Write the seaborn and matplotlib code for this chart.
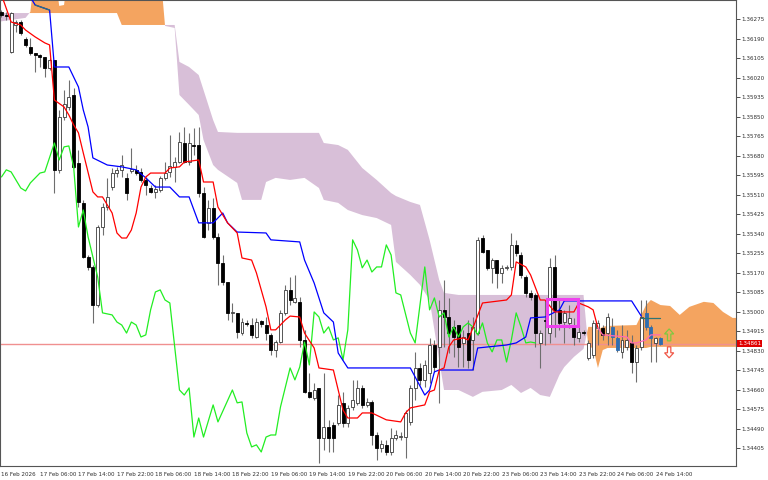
import numpy as np
import pandas as pd
import matplotlib.pyplot as plt
from matplotlib.patches import Rectangle
import seaborn as sns

# H1 candles, bar 0 = 16 Feb 22:00
opens = [1.36306, 1.36293, 1.36132, 1.36249, 1.36262, 1.36188, 1.36153, 1.36127, 1.36118, 1.36110,
         1.36062, 1.36097, 1.35618, 1.35848, 1.35892, 1.35944, 1.35648, 1.35474, 1.35239, 1.35195,
         1.35029, 1.35369, 1.35456, 1.35543, 1.35604, 1.35618, 1.35583, 1.35613, 1.35618, 1.35609,
         1.35574, 1.35539, 1.35522, 1.35530, 1.35583, 1.35609, 1.35631, 1.35652, 1.35735, 1.35652,
         1.35726, 1.35726, 1.35517, 1.35387, 1.35452, 1.35326, 1.35212, 1.35130, 1.34995, 1.34995,
         1.34907, 1.34951, 1.34942, 1.34890, 1.34960, 1.34942, 1.34899, 1.34833, 1.34868, 1.34995,
         1.35095, 1.35043, 1.35043, 1.34877, 1.34651, 1.34624, 1.34668, 1.34450, 1.34498, 1.34507,
         1.34515, 1.34603, 1.34515, 1.34585, 1.34603, 1.34668, 1.34594, 1.34607, 1.34463, 1.34407,
         1.34420, 1.34389, 1.34450, 1.34454, 1.34454, 1.34520, 1.34668, 1.34755, 1.34703, 1.34733,
         1.34855, 1.34847, 1.35008, 1.34977, 1.34934, 1.34942, 1.34864, 1.34907, 1.34877, 1.34907,
         1.35321, 1.35269, 1.35191, 1.35225, 1.35169, 1.35191, 1.35195, 1.35291, 1.35247, 1.35151,
         1.35082, 1.35073, 1.34864, 1.34964, 1.34907, 1.35195, 1.35008, 1.34955, 1.34951, 1.34929,
         1.34886, 1.34912, 1.34799, 1.34812, 1.34929, 1.34929, 1.34907, 1.34934, 1.34886, 1.34825,
         1.34847, 1.34864, 1.34781, 1.34847, 1.34995, 1.34934, 1.34864, 1.34886]
highs = [1.36314, 1.36306, 1.36306, 1.36271, 1.36271, 1.36197, 1.36193, 1.36127, 1.36123, 1.36110,
         1.36105, 1.36097, 1.35879, 1.35966, 1.36010, 1.35975, 1.35705, 1.35487, 1.35247, 1.35204,
         1.35378, 1.35474, 1.35583, 1.35626, 1.35631, 1.35683, 1.35604, 1.35713, 1.35639, 1.35626,
         1.35587, 1.35552, 1.35552, 1.35591, 1.35652, 1.35770, 1.35674, 1.35783, 1.35805, 1.35779,
         1.35801, 1.35805, 1.35543, 1.35487, 1.35496, 1.35343, 1.35247, 1.35130, 1.35038, 1.34995,
         1.34973, 1.34964, 1.34973, 1.34973, 1.34964, 1.34977, 1.34907, 1.34877, 1.35008, 1.35117,
         1.35151, 1.35160, 1.35064, 1.34921, 1.34733, 1.34690, 1.34668, 1.34733, 1.34529, 1.34520,
         1.34637, 1.34651, 1.34594, 1.34703, 1.34703, 1.34681, 1.34624, 1.34616, 1.34476, 1.34441,
         1.34441, 1.34494, 1.34485, 1.34476, 1.34572, 1.34681, 1.34825, 1.34777, 1.34790, 1.34886,
         1.34877, 1.35051, 1.35138, 1.35060, 1.34964, 1.34942, 1.34921, 1.34964, 1.34977, 1.35326,
         1.35334, 1.35269, 1.35234, 1.35225, 1.35204, 1.35204, 1.35343, 1.35313, 1.35260, 1.35160,
         1.35095, 1.35082, 1.34921, 1.35051, 1.35234, 1.35247, 1.35051, 1.35008, 1.35029, 1.34973,
         1.34942, 1.34921, 1.34877, 1.34964, 1.34964, 1.34942, 1.34995, 1.34973, 1.34921, 1.34942,
         1.34921, 1.34899, 1.34855, 1.35051, 1.35051, 1.34942, 1.34890, 1.34890]
lows = [1.36284, 1.36271, 1.36127, 1.36219, 1.36206, 1.36153, 1.36118, 1.36044, 1.36066, 1.36023,
        1.36053, 1.35517, 1.35604, 1.35835, 1.35879, 1.35626, 1.35456, 1.35234, 1.35182, 1.34951,
        1.35021, 1.35334, 1.35443, 1.35530, 1.35587, 1.35587, 1.35487, 1.35604, 1.35596, 1.35565,
        1.35509, 1.35517, 1.35496, 1.35522, 1.35574, 1.35587, 1.35565, 1.35648, 1.35648, 1.35639,
        1.35683, 1.35500, 1.35321, 1.35356, 1.35317, 1.35117, 1.35117, 1.34964, 1.34955, 1.34886,
        1.34899, 1.34938, 1.34886, 1.34886, 1.34934, 1.34877, 1.34812, 1.34803, 1.34864, 1.34986,
        1.35029, 1.35038, 1.34847, 1.34646, 1.34624, 1.34616, 1.34341, 1.34398, 1.34389, 1.34389,
        1.34507, 1.34498, 1.34498, 1.34572, 1.34594, 1.34581, 1.34585, 1.34420, 1.34354, 1.34389,
        1.34376, 1.34376, 1.34441, 1.34441, 1.34363, 1.34507, 1.34616, 1.34681, 1.34672, 1.34690,
        1.34738, 1.34603, 1.34847, 1.34820, 1.34803, 1.34759, 1.34759, 1.34755, 1.34746, 1.34899,
        1.35256, 1.35182, 1.35125, 1.35104, 1.35125, 1.35182, 1.35182, 1.35243, 1.35147, 1.35064,
        1.35051, 1.34847, 1.34755, 1.34855, 1.34864, 1.34890, 1.34921, 1.34864, 1.34929, 1.34855,
        1.34868, 1.34899, 1.34790, 1.34799, 1.34855, 1.34877, 1.34855, 1.34855, 1.34825, 1.34799,
        1.34833, 1.34733, 1.34694, 1.34833, 1.34921, 1.34781, 1.34781, 1.34855]
closes = [1.36293, 1.36288, 1.36301, 1.36262, 1.36214, 1.36162, 1.36127, 1.36118, 1.36110, 1.36062,
          1.36097, 1.35618, 1.35848, 1.35905, 1.35936, 1.35631, 1.35478, 1.35239, 1.35195, 1.35029,
          1.35369, 1.35456, 1.35500, 1.35604, 1.35618, 1.35639, 1.35517, 1.35622, 1.35604, 1.35574,
          1.35552, 1.35522, 1.35535, 1.35583, 1.35604, 1.35635, 1.35652, 1.35740, 1.35652, 1.35735,
          1.35722, 1.35517, 1.35326, 1.35452, 1.35326, 1.35212, 1.35130, 1.34995, 1.34999, 1.34912,
          1.34955, 1.34947, 1.34899, 1.34955, 1.34947, 1.34907, 1.34833, 1.34868, 1.34995, 1.35095,
          1.35051, 1.35060, 1.34877, 1.34651, 1.34629, 1.34659, 1.34450, 1.34498, 1.34450, 1.34450,
          1.34594, 1.34515, 1.34581, 1.34616, 1.34668, 1.34594, 1.34607, 1.34463, 1.34407, 1.34424,
          1.34389, 1.34450, 1.34463, 1.34459, 1.34559, 1.34668, 1.34755, 1.34703, 1.34768, 1.34855,
          1.34759, 1.35008, 1.34977, 1.34907, 1.34890, 1.34847, 1.34890, 1.34790, 1.34934, 1.35313,
          1.35260, 1.35191, 1.35225, 1.35169, 1.35191, 1.35195, 1.35291, 1.35256, 1.35160, 1.35082,
          1.35064, 1.34907, 1.34907, 1.34960, 1.35195, 1.35008, 1.34951, 1.34995, 1.34973, 1.34890,
          1.34912, 1.34907, 1.34864, 1.34951, 1.34951, 1.34899, 1.34977, 1.34890, 1.34833, 1.34877,
          1.34877, 1.34781, 1.34842, 1.34977, 1.34934, 1.34886, 1.34886, 1.34861]
blue_bars = [127, 128, 134, 135, 137]

# Ichimoku lines (bar index, price)
tenkan_bar = [0, 2, 4, 5, 7, 9, 10, 11, 13, 14, 15, 16, 17, 19, 20, 21, 23, 24, 25, 26,
              27, 28, 29, 30, 31, 34, 35, 37, 38, 41, 42, 44, 45, 47, 49, 50, 52, 53, 55, 56,
              57, 59, 60, 62, 63, 65, 66, 69, 70, 71, 72, 74, 75, 77, 80, 83, 84, 85, 88, 89,
              90, 91, 92, 93, 94, 96, 97, 98, 100, 105, 106, 107, 109, 110, 112, 113, 115, 119, 120, 122,
              123, 124]
tenkan = [1.36380, 1.36262, 1.36249, 1.36227, 1.36197, 1.36171, 1.36162, 1.35922, 1.35892, 1.35857,
          1.35814, 1.35779, 1.35692, 1.35522, 1.35500, 1.35500, 1.35430, 1.35343, 1.35321, 1.35321,
          1.35356, 1.35430, 1.35543, 1.35587, 1.35604, 1.35604, 1.35626, 1.35631, 1.35652, 1.35661,
          1.35565, 1.35565, 1.35456, 1.35387, 1.35343, 1.35234, 1.35225, 1.35169, 1.35021, 1.34921,
          1.34921, 1.34964, 1.34981, 1.34977, 1.34907, 1.34842, 1.34755, 1.34746, 1.34659, 1.34572,
          1.34537, 1.34537, 1.34559, 1.34559, 1.34529, 1.34520, 1.34559, 1.34581, 1.34594, 1.34651,
          1.34659, 1.34746, 1.34755, 1.34847, 1.34877, 1.34886, 1.34877, 1.34929, 1.35038, 1.35051,
          1.35073, 1.35217, 1.35195, 1.35160, 1.35051, 1.35051, 1.34999, 1.34999, 1.35038, 1.35021,
          1.35008, 1.34929]
tenkan_pink_bar = [124, 125, 130, 131, 132, 134, 135, 137]
tenkan_pink = [1.34929, 1.34899, 1.34890, 1.34864, 1.34864, 1.34877, 1.34899, 1.34899]

kijun_bar = [6, 7, 10, 11, 14, 16, 17, 18, 19, 22, 25, 28, 30, 32, 35, 37, 39, 41, 44, 46,
             47, 49, 55, 56, 62, 63, 65, 67, 69, 70, 72, 85, 88, 89, 90, 91, 98, 99, 105, 107,
             109, 110, 113, 116, 117, 131, 133]
kijun = [1.36371, 1.36336, 1.36314, 1.36066, 1.36066, 1.35979, 1.35879, 1.35805, 1.35670, 1.35639,
         1.35631, 1.35618, 1.35583, 1.35543, 1.35543, 1.35500, 1.35500, 1.35387, 1.35387, 1.35430,
         1.35387, 1.35347, 1.35343, 1.35313, 1.35304, 1.35225, 1.35125, 1.34995, 1.34955, 1.34820,
         1.34755, 1.34755, 1.34637, 1.34659, 1.34738, 1.34746, 1.34746, 1.34842, 1.34855, 1.34864,
         1.34890, 1.34973, 1.34977, 1.35008, 1.35047, 1.35047, 1.34981]
kijun_teal_early_bar = [7, 10]
kijun_teal_early = [1.36336, 1.36314]
kijun_teal_bar = [133, 137]
kijun_teal = [1.34973, 1.34973]

chikou_bar = [0, 1, 2, 4, 5, 6, 8, 9, 11, 12, 13, 14, 15, 16, 17, 18, 20, 21, 23, 24,
              25, 26, 27, 28, 29, 30, 31, 32, 33, 34, 35, 37, 38, 39, 40, 41, 42, 44, 45, 48,
              49, 50, 51, 52, 53, 54, 55, 56, 57, 58, 60, 61, 62, 63, 64, 65, 66, 67, 68, 69,
              70, 71, 72, 73, 74, 75, 76, 77, 78, 79, 80, 81, 82, 83, 85, 86, 88, 89, 90, 91,
              92, 93, 94, 95, 96, 97, 98, 99, 100, 101, 102, 103, 104, 105, 106, 107, 108, 109, 110, 111]
chikou = [1.35587, 1.35618, 1.35609, 1.35539, 1.35526, 1.35561, 1.35604, 1.35609, 1.35735, 1.35661,
          1.35718, 1.35722, 1.35631, 1.35369, 1.35443, 1.35326, 1.35151, 1.34995, 1.34986, 1.34955,
          1.34942, 1.34907, 1.34955, 1.34942, 1.34890, 1.34899, 1.35008, 1.35086, 1.35095, 1.35051,
          1.35038, 1.34659, 1.34637, 1.34668, 1.34454, 1.34537, 1.34454, 1.34594, 1.34520, 1.34659,
          1.34603, 1.34607, 1.34472, 1.34411, 1.34420, 1.34389, 1.34454, 1.34463, 1.34463, 1.34585,
          1.34755, 1.34703, 1.34759, 1.34868, 1.34768, 1.34999, 1.34977, 1.34907, 1.34934, 1.34877,
          1.34886, 1.34790, 1.34921, 1.35313, 1.35269, 1.35191, 1.35225, 1.35173, 1.35195, 1.35195,
          1.35291, 1.35247, 1.35082, 1.35073, 1.34907, 1.34864, 1.35195, 1.35008, 1.35060, 1.34977,
          1.34995, 1.34890, 1.34934, 1.34890, 1.34934, 1.34951, 1.34934, 1.34899, 1.34951, 1.34864,
          1.34825, 1.34877, 1.34877, 1.34781, 1.34877, 1.34995, 1.34934, 1.34864, 1.34868, 1.34864]

# Senkou spans (shifted 26 bars ahead)
cloud_bar = [-1, 5, 6, 7, 11, 12, 13, 14, 24, 25, 33, 34, 36, 37, 39, 41, 42, 44, 45, 49,
             50, 54, 55, 57, 60, 63, 66, 67, 70, 72, 75, 78, 81, 82, 85, 87, 89, 91, 92, 95,
             98, 100, 104, 106, 108, 110, 112, 114, 116, 117, 119, 121, 122, 123, 124, 125, 126, 132, 134, 135,
             137, 139, 141, 143, 146, 148, 150, 152, 154]
span_a = [1.36262, 1.36280, 1.36306, 1.36489, 1.36489, 1.36332, 1.36336, 1.36489, 1.36489, 1.36489,
          1.36489, 1.36245, 1.36236, 1.35944, 1.35901, 1.35857, 1.35748, 1.35639, 1.35618, 1.35561,
          1.35487, 1.35487, 1.35565, 1.35583, 1.35574, 1.35583, 1.35539, 1.35487, 1.35474, 1.35443,
          1.35421, 1.35408, 1.35378, 1.35217, 1.35160, 1.35117, 1.35051, 1.34790, 1.34659, 1.34659,
          1.34629, 1.34651, 1.34659, 1.34681, 1.34646, 1.34668, 1.34637, 1.34629, 1.34725, 1.34759,
          1.34803, 1.34838, 1.34934, 1.34934, 1.34921, 1.34934, 1.34938, 1.34942, 1.35029, 1.35051,
          1.35029, 1.35025, 1.34986, 1.35021, 1.35043, 1.35038, 1.34999, 1.34973, 1.34973]
span_b = [1.36301, 1.36301, 1.36301, 1.36301, 1.36301, 1.36301, 1.36301, 1.36301, 1.36301, 1.36249,
          1.36249, 1.36249, 1.36249, 1.36088, 1.36066, 1.36031, 1.35966, 1.35835, 1.35783, 1.35779,
          1.35779, 1.35779, 1.35779, 1.35779, 1.35779, 1.35779, 1.35779, 1.35735, 1.35726, 1.35705,
          1.35626, 1.35574, 1.35517, 1.35504, 1.35478, 1.35465, 1.35313, 1.35138, 1.35082, 1.35073,
          1.35073, 1.35073, 1.35073, 1.35073, 1.35073, 1.35073, 1.35073, 1.35073, 1.35073, 1.35073,
          1.35073, 1.35073, 1.34847, 1.34842, 1.34755, 1.34833, 1.34842, 1.34842, 1.34842, 1.34847,
          1.34847, 1.34847, 1.34847, 1.34847, 1.34847, 1.34847, 1.34847, 1.34847, 1.34847]

price_ticks = [1.36275, 1.36190, 1.36105, 1.36020, 1.35935, 1.35850, 1.35765, 1.35680, 1.35595, 1.35510,
               1.35425, 1.35340, 1.35255, 1.35170, 1.35085, 1.35000, 1.34915, 1.34830, 1.34745, 1.34660,
               1.34575, 1.34490, 1.34405]
time_tick_bars = [0, 8, 16, 24, 32, 40, 48, 56, 64, 72, 80, 88, 96, 104, 112, 120, 128, 136]
time_labels = ["16 Feb 2026", "17 Feb 06:00", "17 Feb 14:00", "17 Feb 22:00", "18 Feb 06:00",
               "18 Feb 14:00", "18 Feb 22:00", "19 Feb 06:00", "19 Feb 14:00", "19 Feb 22:00",
               "20 Feb 06:00", "20 Feb 14:00", "20 Feb 22:00", "23 Feb 06:00", "23 Feb 14:00",
               "23 Feb 22:00", "24 Feb 06:00", "24 Feb 14:00"]
last_price = 1.34861
box_bars = [113.4, 119.9]
box_prices = [1.34938, 1.35055]
arrow_bar = 138.8
up_arrow = [1.34873, 1.34925]
down_arrow = [1.34847, 1.34799]

sns.set_style("white")
plt.rcParams['font.family'] = ['DejaVu Sans']

df = pd.DataFrame({"open": opens, "high": highs, "low": lows, "close": closes})
df["bar"] = np.arange(len(df))
df["bull"] = df["close"] >= df["open"]

fig = plt.figure(figsize=(7.68, 4.8), dpi=100)
ax = fig.add_axes([0, 14 / 480, 736 / 768, 466 / 480])

a = np.array(span_a)
b = np.array(span_b)
ax.fill_between(cloud_bar, a, b, where=a >= b, interpolate=True, color="#F4A460", lw=0, zorder=1)
ax.fill_between(cloud_bar, a, b, where=a < b, interpolate=True, color="#D8BFD8", lw=0, zorder=1)

ax.axhline(last_price, color="#F09090", lw=1, zorder=1.5)

# candles
ax.vlines(df["bar"], df["low"], df["high"], color="#6e6e6e", lw=0.8, zorder=2)
body_low = df[["open", "close"]].min(axis=1)
body_h = (df["close"] - df["open"]).abs().clip(lower=0.00002)
face = []
edge = []
for i, bull in zip(df["bar"], df["bull"]):
    if bull:
        face.append("white"); edge.append("#3a3a3a")
    elif i in blue_bars:
        face.append("#2F6DB0"); edge.append("#2F6DB0")
    else:
        face.append("black"); edge.append("black")
ax.bar(df["bar"], body_h, bottom=body_low, width=0.62, color=face, edgecolor=edge, lw=0.6, zorder=3)

# ichimoku lines
sns.lineplot(x=chikou_bar, y=chikou, ax=ax, color="#22EE22", lw=0.9, zorder=4)
sns.lineplot(x=kijun_bar, y=kijun, ax=ax, color="#0000FF", lw=0.9, zorder=4)
sns.lineplot(x=kijun_teal_early_bar, y=kijun_teal_early, ax=ax, color="#2E7474", lw=0.9, zorder=4.5)
sns.lineplot(x=kijun_teal_bar, y=kijun_teal, ax=ax, color="#2E7474", lw=0.9, zorder=4)
sns.lineplot(x=tenkan_bar, y=tenkan, ax=ax, color="#FF0000", lw=0.9, zorder=4)
sns.lineplot(x=tenkan_pink_bar, y=tenkan_pink, ax=ax, color="#FF69B4", lw=0.9, zorder=4)

ax.add_patch(Rectangle((box_bars[0], box_prices[0]), box_bars[1] - box_bars[0],
                       box_prices[1] - box_prices[0], fill=False, ec="#EE40EE", lw=2.2, zorder=5))

ax.arrow(arrow_bar, up_arrow[0], 0, up_arrow[1] - up_arrow[0], width=0.7, head_width=1.9,
         head_length=0.00022, length_includes_head=True, fill=False, ec="#80C840", lw=0.9, zorder=5)
ax.arrow(arrow_bar, down_arrow[0], 0, down_arrow[1] - down_arrow[0], width=0.7, head_width=1.9,
         head_length=0.00022, length_includes_head=True, fill=False, ec="#F05848", lw=0.9, zorder=5)

ax.set_xlim(-0.31, 152.7)
ax.set_ylim(1.343279, 1.363578)
ax.set_xlabel("")
ax.set_ylabel("")

ax.yaxis.tick_right()
ax.set_yticks(price_ticks)
ax.set_yticklabels([f"{p:.5f}" for p in price_ticks])
ax.set_xticks(time_tick_bars)
ax.set_xticklabels(time_labels)
for lbl in ax.get_xticklabels():
    lbl.set_ha("left")
ax.tick_params(axis="y", direction="out", length=3, width=0.6, colors="#303030", labelsize=4.1, pad=1)
ax.tick_params(axis="x", direction="out", length=4, width=0.6, colors="#303030", labelsize=4.1, pad=0.5)
for s in ax.spines.values():
    s.set_color("#555555")
    s.set_linewidth(0.8)

ax.text(1.003, last_price, f"{last_price:.5f}", transform=ax.get_yaxis_transform(), ha="left", va="center",
        fontsize=4.1, color="white", bbox=dict(boxstyle="square,pad=0.2", fc="#E00000", ec="none"),
        clip_on=False, zorder=10)

fig.savefig("out.png", dpi=100)
